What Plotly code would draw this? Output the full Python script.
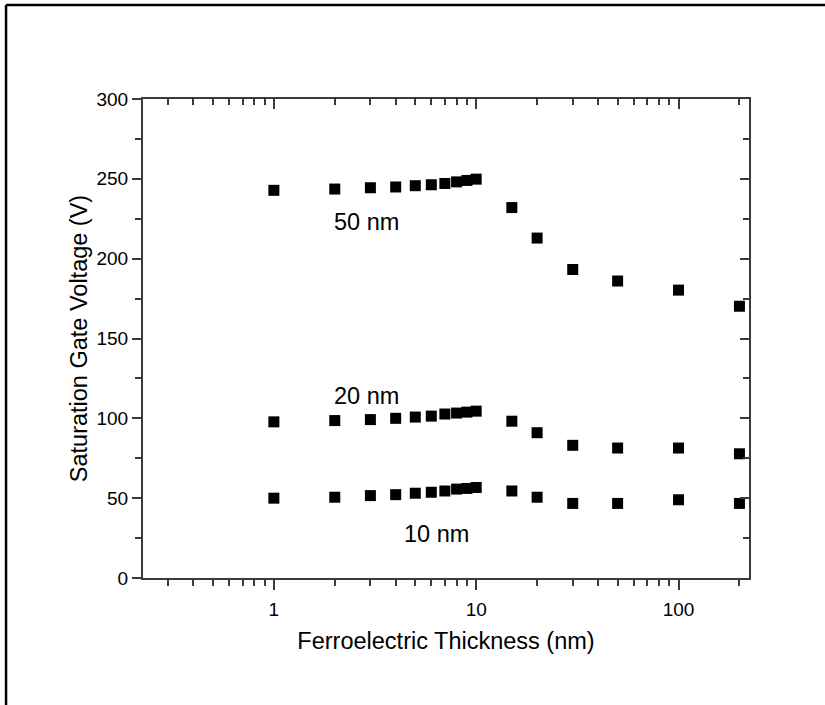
import plotly.graph_objects as go

thickness_nm = [1, 2, 3, 4, 5, 6, 7, 8, 9, 10, 15, 20, 30, 50, 100, 200]
v_50nm = [242.8, 243.6, 244.4, 244.9, 245.7, 246.3, 247.1, 248.1, 249.0, 249.8,
          232.0, 212.9, 193.2, 186.0, 180.3, 170.2]
v_20nm = [97.8, 98.6, 99.2, 100.0, 100.8, 101.4, 102.7, 103.3, 103.9, 104.5,
          98.2, 91.0, 83.1, 81.4, 81.4, 77.8]
v_10nm = [50.0, 50.6, 51.6, 52.2, 53.1, 53.7, 54.5, 55.7, 56.1, 56.7,
          54.5, 50.6, 46.7, 46.7, 49.0, 46.7]
series_labels = ["50 nm", "20 nm", "10 nm"]

x_major = [1, 10, 100]
x_minor = [0.3, 0.4, 0.5, 0.6, 0.7, 0.8, 0.9, 2, 3, 4, 5, 6, 7, 8, 9,
           20, 30, 40, 50, 60, 70, 80, 90, 200]
x_range = [-0.6468, 2.3483]
y_range = [0, 300]

FONT = "Liberation Sans, Arial, sans-serif"
AX = "#3a3a3a"

fig = go.Figure()
for vals, name in zip([v_50nm, v_20nm, v_10nm], series_labels):
    fig.add_trace(go.Scatter(x=thickness_nm, y=vals, mode="markers", name=name,
                             marker=dict(symbol="square", size=11, color="black"),
                             showlegend=False))
# invisible trace to activate the mirrored (top/right) axes
fig.add_trace(go.Scatter(x=thickness_nm, y=v_10nm, xaxis="x2", yaxis="y2",
                         mode="markers", marker=dict(opacity=0), hoverinfo="skip",
                         showlegend=False))

common_x = dict(type="log", range=x_range, showgrid=False, zeroline=False,
                showline=True, linecolor=AX, linewidth=2,
                tickmode="array", tickvals=x_major, tickwidth=1.5, tickcolor=AX)
common_y = dict(range=y_range, showgrid=False, zeroline=False,
                showline=True, linecolor=AX, linewidth=2,
                tickmode="linear", tick0=0, dtick=50, tickwidth=1.5, tickcolor=AX)

fig.update_layout(
    width=825, height=705,
    margin=dict(l=143, r=76, t=99, b=127),
    paper_bgcolor="white", plot_bgcolor="white",
    font=dict(family=FONT, color="black"),
    xaxis=dict(**common_x, ticks="outside", ticklen=10,
               ticktext=[str(v) for v in x_major], ticklabelstandoff=3,
               tickfont=dict(size=19, family=FONT, color="black"),
               minor=dict(tickmode="array", tickvals=x_minor, ticks="outside",
                          ticklen=6, tickwidth=1.5, tickcolor=AX, showgrid=False),
               title=dict(text="Ferroelectric Thickness (nm)",
                          font=dict(size=23.5, family=FONT, color="black"), standoff=14)),
    xaxis2=dict(**common_x, overlaying="x", side="top", ticks="inside", ticklen=10,
                showticklabels=False,
                minor=dict(tickmode="array", tickvals=x_minor, ticks="inside",
                           ticklen=6, tickwidth=1.5, tickcolor=AX, showgrid=False)),
    yaxis=dict(**common_y, ticks="outside", ticklen=9,
               tickfont=dict(size=19, family=FONT, color="black"),
               minor=dict(dtick=25, tick0=0, ticks="outside", ticklen=6,
                          tickwidth=1.5, tickcolor=AX, showgrid=False),
               title=dict(text="Saturation Gate Voltage (V)",
                          font=dict(size=23.5, family=FONT, color="black"), standoff=2)),
    yaxis2=dict(**common_y, overlaying="y", side="right", ticks="inside", ticklen=9,
                showticklabels=False,
                minor=dict(dtick=25, tick0=0, ticks="inside", ticklen=6,
                           tickwidth=1.5, tickcolor=AX, showgrid=False)),
)

label_pos = [(0.3696, 0.743), (0.3696, 0.379), (0.485, 0.092)]
for name, (px, py) in zip(series_labels, label_pos):
    fig.add_annotation(text=name, xref="paper", yref="paper", x=px, y=py,
                       showarrow=False, xanchor="center", yanchor="middle",
                       font=dict(size=23.5, family=FONT, color="black"))

# outer frame (top and left edges of the figure border)
fig.add_shape(type="line", xref="paper", yref="paper", x0=-0.226, x1=1.1254,
              y0=1.196, y1=1.196, line=dict(color="black", width=2.5))
fig.add_shape(type="line", xref="paper", yref="paper", x0=-0.226, x1=-0.226,
              y0=1.196, y1=-0.3, line=dict(color="black", width=2.5))

fig.write_html("out.html")
